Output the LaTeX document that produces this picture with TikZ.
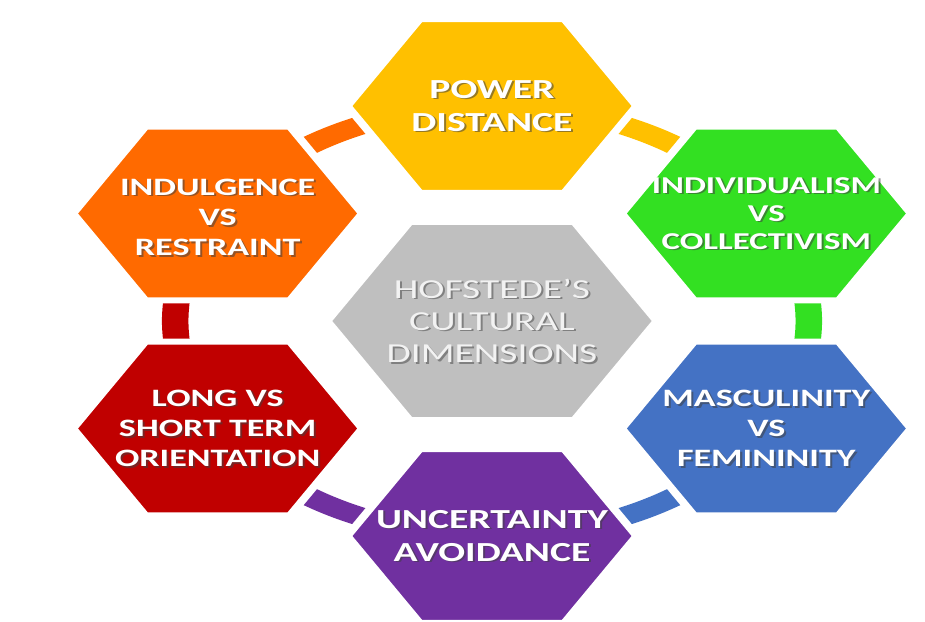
\documentclass[tikz,border=0pt]{standalone}
\usepackage{fontspec}
\setmainfont{Carlito}
\usetikzlibrary{shapes.geometric}

\definecolor{pdgold}{HTML}{FFC000}
\definecolor{icgreen}{HTML}{33E022}
\definecolor{mfblue}{HTML}{4472C4}
\definecolor{uapurple}{HTML}{7030A0}
\definecolor{ltred}{HTML}{C00000}
\definecolor{irorange}{HTML}{FF6A00}
\definecolor{hdgray}{HTML}{BFBFBF}

\begin{document}
\begin{tikzpicture}[x=0.025cm, y=0.025cm,
	hexa/.style={regular polygon, regular polygon sides=6, minimum size=5.02cm, inner sep=0pt, draw=white, line width=0.15cm},
	ring/.style={line width=0.46cm},
	lbl/.style={align=center, text=white, font=\bfseries\fontsize{17.8}{21.4}\selectfont},
	lblbig/.style={lbl, font=\bfseries\fontsize{19.6}{23.5}\selectfont},
	lblsmall/.style={lbl, font=\bfseries\fontsize{17.2}{19.8}\selectfont},
	shd/.style={text=black!75, opacity=0.55, xshift=0.035cm, yshift=-0.035cm},
	mid/.style={align=center, text=white!95!black, font=\fontsize{19.5}{22.8}\selectfont}]
	\useasboundingbox (-492,-300) rectangle (433,321);

	\begin{scope}[transform canvas={xscale=1.44}]
	\coordinate (pd-c) at (90:220 and 215);
	\coordinate (ic-c) at (30:220 and 215);
	\coordinate (mf-c) at (-30:220 and 215);
	\coordinate (ua-c) at (-90:220 and 215);
	\coordinate (lt-c) at (-150:220 and 215);
	\coordinate (ir-c) at (150:220 and 215);

	% ring pieces, each one running clockwise to the next dimension
	\draw[ring, pdgold]   (pd-c) arc[start angle=90,   end angle=30,   x radius=220, y radius=215];
	\draw[ring, icgreen]  (ic-c) arc[start angle=30,   end angle=-30,  x radius=220, y radius=215];
	\draw[ring, mfblue]   (mf-c) arc[start angle=-30,  end angle=-90,  x radius=220, y radius=215];
	\draw[ring, uapurple] (ua-c) arc[start angle=-90,  end angle=-150, x radius=220, y radius=215];
	\draw[ring, ltred]    (lt-c) arc[start angle=-150, end angle=-210, x radius=220, y radius=215];
	\draw[ring, irorange] (ir-c) arc[start angle=150,  end angle=90,   x radius=220, y radius=215];

	\node[hexa, fill=hdgray, minimum size=5.72cm] (hd) at (0,0) {};
	\node[hexa, fill=pdgold]   (pd) at (pd-c) {};
	\node[hexa, fill=icgreen]  (ic) at (ic-c) {};
	\node[hexa, fill=mfblue]   (mf) at (mf-c) {};
	\node[hexa, fill=uapurple] (ua) at (ua-c) {};
	\node[hexa, fill=ltred]    (lt) at (lt-c) {};
	\node[hexa, fill=irorange] (ir) at (ir-c) {};

	% labels: a dark copy first, the white text on top
	\node[mid, shd, text=black!50, opacity=1] (hd-s) at (hd) {HOFSTEDE’S\\CULTURAL\\DIMENSIONS};
	\node[mid] (hd-t) at (hd) {HOFSTEDE’S\\CULTURAL\\DIMENSIONS};
	\node[lblbig, shd] (pd-s) at (pd) {POWER\\DISTANCE};
	\node[lblbig] (pd-t) at (pd) {POWER\\DISTANCE};
	\node[lblsmall, shd] (ic-s) at (ic) {INDIVIDUALISM\\VS\\COLLECTIVISM};
	\node[lblsmall] (ic-t) at (ic) {INDIVIDUALISM\\VS\\COLLECTIVISM};
	\node[lbl, shd] (mf-s) at (mf) {MASCULINITY\\VS\\FEMININITY};
	\node[lbl] (mf-t) at (mf) {MASCULINITY\\VS\\FEMININITY};
	\node[lblbig, shd] (ua-s) at (ua) {UNCERTAINTY\\AVOIDANCE};
	\node[lblbig] (ua-t) at (ua) {UNCERTAINTY\\AVOIDANCE};
	\node[lbl, shd] (lt-s) at (lt) {LONG VS\\SHORT TERM\\ORIENTATION};
	\node[lbl] (lt-t) at (lt) {LONG VS\\SHORT TERM\\ORIENTATION};
	\node[lbl, shd] (ir-s) at ([yshift=-0.1cm]ir) {INDULGENCE\\VS\\RESTRAINT};
	\node[lbl] (ir-t) at ([yshift=-0.1cm]ir) {INDULGENCE\\VS\\RESTRAINT};
	\end{scope}
\end{tikzpicture}
\end{document}
